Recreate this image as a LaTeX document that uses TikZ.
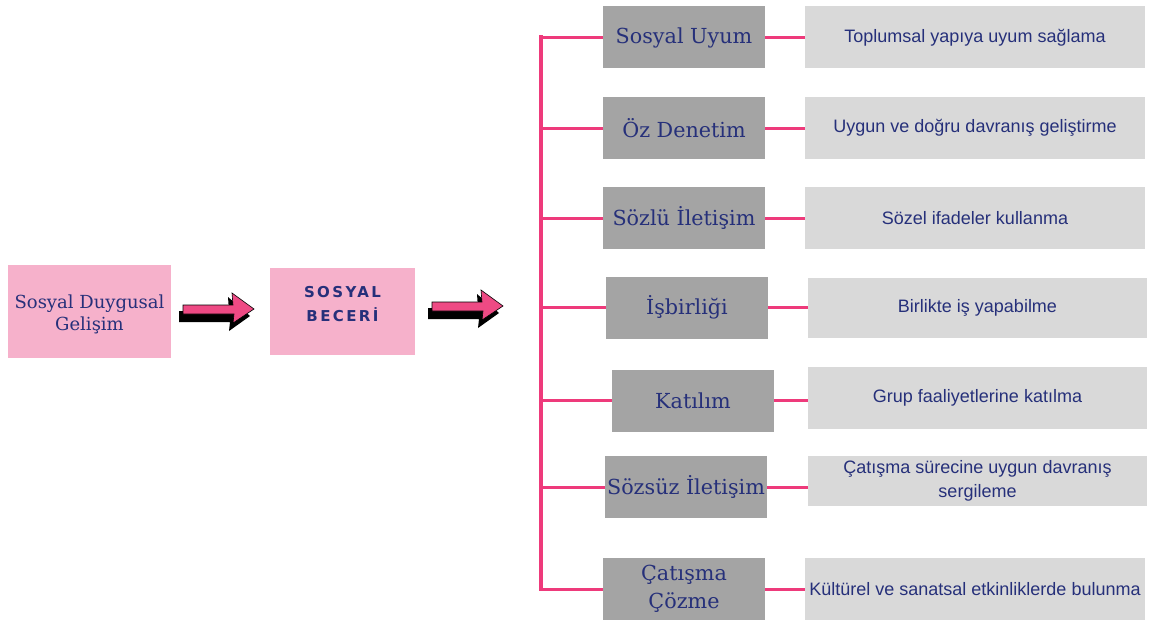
\documentclass[tikz,border=0pt]{standalone}
\usepackage{fontspec}
\setmainfont{Liberation Sans}
\newfontfamily\slabfont{DejaVu Serif}
\newfontfamily\headfont[LetterSpace=16]{DejaVu Sans}
\usetikzlibrary{calc}
\definecolor{navy}{HTML}{26307A}
\definecolor{rosefill}{HTML}{F6B1CB}
\definecolor{pinkline}{HTML}{EE3A7B}
\definecolor{arrowpink}{HTML}{EE4A84}
\definecolor{darkgray}{HTML}{A4A4A4}
\definecolor{lightgray}{HTML}{D9D9D9}
\tikzset{
  rosebox/.style={fill=rosefill, inner sep=0pt, text=navy, align=center},
  skillbox/.style={fill=darkgray, minimum width=162pt, minimum height=62pt, inner sep=0pt,
    text=navy, align=center, font=\slabfont\fontsize{20.7}{28}\selectfont},
  notebox/.style={fill=lightgray, minimum width=340pt, minimum height=62pt, inner sep=0pt,
    text=navy, align=center, font=\fontsize{18}{24}\selectfont},
  trunk/.style={draw=pinkline, line width=4.2pt},
  branch/.style={draw=pinkline, line width=3pt},
}
\newcommand\blockarrow[1]{%
  \begin{scope}[shift={(#1)}]
    \fill[black] (-4,2) -- (46,2) -- (45,-12) -- (67,7) -- (46,22) -- (47,13) -- (-4,13) -- cycle;
    \filldraw[fill=arrowpink, draw=black, line width=0.6pt]
      (0,-4) -- (50,-4) -- (49,-16) -- (71,0) -- (50,14) -- (51,5) -- (0,5) -- cycle;
  \end{scope}}
\begin{document}
\begin{tikzpicture}[x=1pt, y=-1pt]
\useasboundingbox (0,0) rectangle (1150,623);
\fill[white] (0,0) rectangle (1150,623);

% left chain
\node[rosebox, minimum width=163pt, minimum height=93pt, font=\slabfont\fontsize{18}{22}\selectfont]
  (sdg) at (89.5,311.5) {\smash{\raisebox{-8pt}{\begin{tabular}{@{}c@{}}Sosyal Duygusal\\Gelişim\end{tabular}}}};
\node[rosebox, minimum width=145pt, minimum height=87pt, font=\headfont\bfseries\fontsize{15}{25}\selectfont]
  (sb) at (342.5,311.5) {\smash{\raisebox{3pt}{\begin{tabular}{@{}c@{}}SOSYAL\\[-1pt]BECERİ\end{tabular}}}};
\coordinate (a1) at (183,309);
\coordinate (a2) at (432,306);
\blockarrow{a1}
\blockarrow{a2}

% skill boxes
\node[skillbox] (g1) at (684,37.5) {Sosyal Uyum};
\node[skillbox] (g2) at (684,128) {Öz Denetim};
\node[skillbox] (g3) at (684,218) {Sözlü İletişim};
\node[skillbox] (g4) at (687,307.5) {İşbirliği};
\node[skillbox] (g5) at (693,400.5) {Katılım};
\node[skillbox] (g6) at (686,487) {Sözsüz İletişim};
\node[skillbox] (g7) at (684,589) {Çatışma\\Çözme};

% descriptions
\node[notebox] (r1) at (975,37.5) {Toplumsal yapıya uyum sağlama};
\node[notebox] (r2) at (975,128) {Uygun ve doğru davranış geliştirme};
\node[notebox] (r3) at (975,218) {Sözel ifadeler kullanma};
\node[notebox, minimum width=339pt, minimum height=60pt] (r4) at (977.5,308) {Birlikte iş yapabilme};
\node[notebox, minimum width=339pt] (r5) at (977.5,398) {Grup faaliyetlerine katılma};
\node[notebox, minimum width=339pt, minimum height=50pt] (r6) at (977.5,481) {Çatışma sürecine uygun davranış\\sergileme};
\node[notebox] (r7) at (975,589) {Kültürel ve sanatsal etkinliklerde bulunma};

% tree connectors
\coordinate (ttop) at (541,37.5);
\coordinate (tbot) at (541,589);
\draw[trunk] ($(ttop)+(0,-2)$) -- ($(tbot)+(0,2)$);
\foreach \g/\r in {g1/r1,g2/r2,g3/r3,g4/r4,g5/r5,g6/r6,g7/r7}{
  \draw[branch] (ttop |- \g.west) -- (\g.west);
  \draw[branch] (\g.east) -- (\g.east -| \r.west);
}
\end{tikzpicture}
\end{document}
